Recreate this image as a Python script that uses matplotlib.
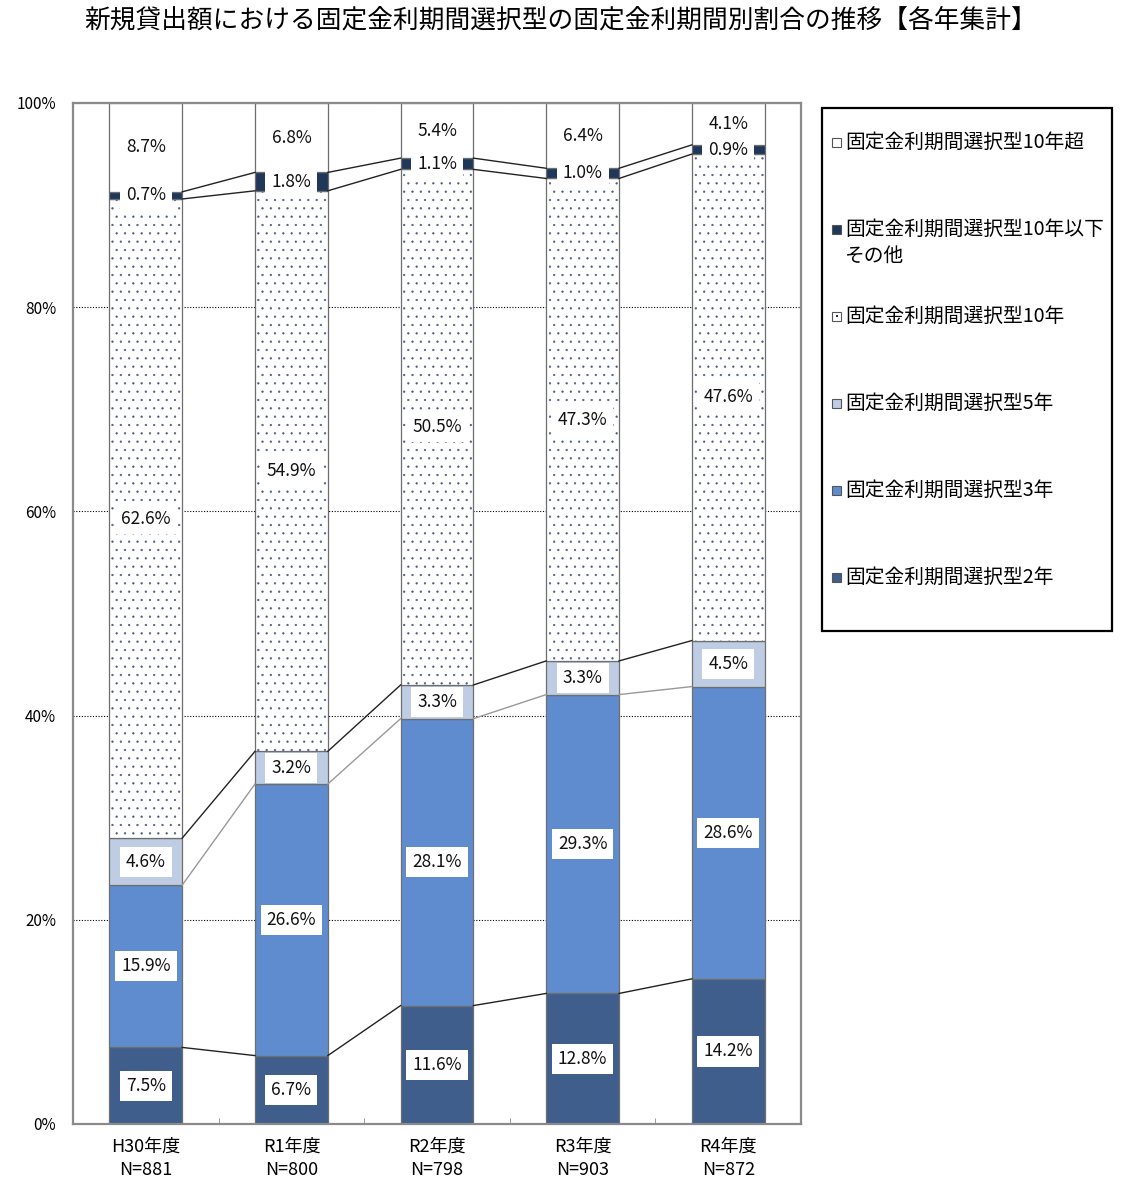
import numpy as np
import matplotlib.pyplot as plt
from matplotlib.patches import Rectangle

plt.rcParams['font.family'] = ['Noto Sans CJK JP', 'DejaVu Sans']
plt.rcParams['hatch.linewidth'] = 0.4

years = ["H30年度", "R1年度", "R2年度", "R3年度", "R4年度"]
counts = [881, 800, 798, 903, 872]

# bottom -> top
fix2 = [7.5, 6.7, 11.6, 12.8, 14.2]
fix3 = [15.9, 26.6, 28.1, 29.3, 28.6]
fix5 = [4.6, 3.2, 3.3, 3.3, 4.5]
fix10 = [62.6, 54.9, 50.5, 47.3, 47.6]
fix10_other = [0.7, 1.8, 1.1, 1.0, 0.9]
fix10_over = [8.7, 6.8, 5.4, 6.4, 4.1]

names = ["固定金利期間選択型2年", "固定金利期間選択型3年", "固定金利期間選択型5年",
         "固定金利期間選択型10年", "固定金利期間選択型10年以下\nその他",
         "固定金利期間選択型10年超"]
colors = ["#3F5E8C", "#5F8CCE", "#BECDE4", "white", "#1F385A", "white"]
link_colors = ["#222222", "#999999", "#222222", "#222222", "#222222"]

series = np.array([fix2, fix3, fix5, fix10, fix10_other, fix10_over])
# 100% stacked, like the spreadsheet does
shares = series / series.sum(axis=0) * 100
cum = np.cumsum(shares, axis=0)

W, H = 1128, 1200
fig = plt.figure(figsize=(W / 100, H / 100), dpi=100)


def fx(px):
    return px / W


def fy(py):
    return 1 - py / H


ax = fig.add_axes([fx(73), fy(1124), fx(801) - fx(73), fy(103) - fy(1124)])

x = np.arange(len(years))
bw = 0.5
edge = "#6E6E6E"

for k in range(len(series)):
    bottom = cum[k] - shares[k]
    if k == 3:
        ax.bar(x, shares[k], bw, bottom=bottom, color="white",
               edgecolor="#4A5D82", hatch="..", linewidth=0, zorder=2)
        ax.bar(x, shares[k], bw, bottom=bottom, fill=False,
               edgecolor=edge, linewidth=0.9, zorder=2)
    else:
        ax.bar(x, shares[k], bw, bottom=bottom, color=colors[k],
               edgecolor=edge, linewidth=0.9, zorder=2)

# connecting lines between bars
for k in range(5):
    for i in range(len(years) - 1):
        ax.plot([x[i] + bw / 2, x[i + 1] - bw / 2], [cum[k][i], cum[k][i + 1]],
                color=link_colors[k], lw=1.0, zorder=3)

# value labels
for k in range(len(series)):
    for i in range(len(years)):
        mid = cum[k][i] - shares[k][i] / 2
        box = None
        if k < 5:
            box = dict(boxstyle="square,pad=0.35", fc="white", ec="none")
        ax.text(x[i], mid, f"{series[k][i]:.1f}%", ha="center", va="center",
                fontsize=12.5, color="#111111", bbox=box, zorder=4)

ax.set_xlim(-0.5, len(years) - 0.5)
ax.set_ylim(0, 100)
ax.set_yticks(range(0, 101, 20))
ax.set_yticklabels([f"{v}%" for v in range(0, 101, 20)], fontsize=11)
ax.set_xticks(x)
ax.set_xticklabels([f"{y}\nN={n}" for y, n in zip(years, counts)], fontsize=13,
                   linespacing=1.4)
ax.set_xticks(x[:-1] + 0.5, minor=True)
ax.tick_params(axis="y", length=0, pad=12)
ax.tick_params(axis="x", which="major", length=0, pad=10)
ax.tick_params(axis="x", which="minor", direction="in", length=4, color="#888888")
ax.yaxis.grid(True, linestyle=(0, (1, 1.5)), color="black", lw=0.8)
ax.set_axisbelow(True)
for s in ax.spines.values():
    s.set_color("#8A8A8A")
    s.set_linewidth(1.6)

fig.text(fx(561), fy(21), "新規貸出額における固定金利期間選択型の固定金利期間別割合の推移【各年集計】",
         ha="center", va="center", fontsize=18.5)

# legend box
fig.patches.append(Rectangle((fx(822), fy(631)), fx(1112) - fx(822), fy(108) - fy(631),
                             transform=fig.transFigure, fill=False, ec="black", lw=1.6))
legend_y = [577, 490, 403, 316, 229, 142]
for k in range(len(series)):
    py = legend_y[k]
    s = 9
    fig.patches.append(Rectangle((fx(837 - s / 2), fy(py + s / 2)), fx(s), s / H,
                                 transform=fig.transFigure, fc=colors[k],
                                 ec="#555555", lw=0.8))
    if k == 3:
        fig.patches.append(Rectangle((fx(836), fy(py + 1)), fx(2), 2 / H,
                                     transform=fig.transFigure, fc="#1F385A", ec="none"))
    lines = names[k].split("\n")
    fig.text(fx(845), fy(py), lines[0], ha="left", va="center", fontsize=14.2)
    if len(lines) > 1:
        fig.text(fx(845), fy(py + 27), lines[1], ha="left", va="center", fontsize=14.2)

fig.savefig("out.png", dpi=100)
